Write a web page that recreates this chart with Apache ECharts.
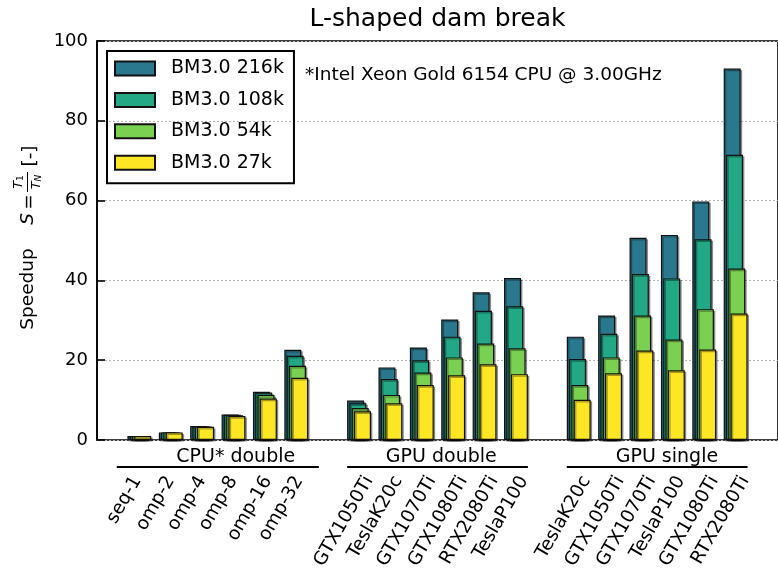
<!DOCTYPE html>
<html><head><meta charset="utf-8">
<script src="https://cdn.jsdelivr.net/npm/echarts@6/dist/echarts.min.js"></script>
<style>html,body{margin:0;padding:0;background:#fff}#c{width:778px;height:576px}</style>
</head><body><div id="c"></div>
<script>
// ---------- data ----------
const chartTitle = 'L-shaped dam break';
const noteText = '*Intel Xeon Gold 6154 CPU @ 3.00GHz';
const groupNames = ['CPU* double', 'GPU double', 'GPU single'];
const cpuCats = ['seq-1', 'omp-2', 'omp-4', 'omp-8', 'omp-16', 'omp-32'];
const gpuDoubleCats = ['GTX1050Ti', 'TeslaK20c', 'GTX1070Ti', 'GTX1080Ti', 'RTX2080Ti', 'TeslaP100'];
const gpuSingleCats = ['TeslaK20c', 'GTX1050Ti', 'GTX1070Ti', 'TeslaP100', 'GTX1080Ti', 'RTX2080Ti'];
const seriesNames = ['BM3.0 216k', 'BM3.0 108k', 'BM3.0 54k', 'BM3.0 27k'];
const bm216k = [1.0, 1.9, 3.5, 6.4, 12.1, 22.6, 9.9, 18.2, 23.2, 30.2, 37.0, 40.6, 25.9, 31.2, 50.7, 51.4, 59.8, 93.1];
const bm108k = [1.0, 1.9, 3.4, 6.3, 11.9, 21.1, 9.2, 15.3, 20.0, 25.9, 32.4, 33.5, 20.3, 26.6, 41.6, 40.5, 50.3, 71.5];
const bm54k  = [1.0, 1.9, 3.4, 6.2, 11.3, 18.6, 8.0, 11.3, 16.9, 20.7, 24.2, 23.0, 13.8, 20.7, 31.2, 25.2, 32.8, 43.0];
const bm27k  = [1.0, 1.9, 3.3, 6.0, 10.4, 15.6, 7.2, 9.2, 13.8, 16.2, 19.0, 16.5, 10.1, 16.7, 22.4, 17.5, 22.7, 31.7];
const yTicks = [0, 20, 40, 60, 80, 100];

// ---------- layout / style ----------
const FONT = '"DejaVu Sans", sans-serif';
const colors = ['#2a788e', '#22a884', '#7ad151', '#fde725'];
const groups = [cpuCats, gpuDoubleCats, gpuSingleCats];
const seriesValues = [bm216k, bm108k, bm54k, bm27k];
// category slot index: one empty slot between groups
const slots = [];   // {name, pos, group}
groups.forEach((cats, g) => {
  const start = g * (cats.length + 1);
  cats.forEach((c, i) => slots.push({ name: c, pos: start + i, group: g }));
});
const groupLinePad = [0.72, 0.38, 0.38];
const groupTextShift = [0.57, 0.12, 0.31];
const labelShift = 0.48;
const labelAngle = 60;
const labelFont = 18.5;
const labelTop = 473;

const series = seriesNames.map((n, si) => ({
  name: n,
  type: 'bar',
  barWidth: 17,
  barGap: '-86.5%',
  data: slots.map((s, i) => [s.pos, seriesValues[si][i]]),
  itemStyle: {
    color: colors[si], borderColor: '#111', borderWidth: 1.2,
    shadowColor: 'rgba(0,0,0,0.35)', shadowOffsetX: 1.5, shadowOffsetY: 1.5, shadowBlur: 0
  },
  emphasis: { disabled: true }
}));

const option = {
  animation: false,
  textStyle: { fontFamily: FONT },
  grid: { left: 97, top: 41, right: -9, bottom: 136, show: true, borderColor: '#000', borderWidth: 1.6, containLabel: false },
  legend: {
    orient: 'vertical', left: 107, top: 51,
    padding: [8, 10, 11, 7],
    borderColor: '#000', borderWidth: 2, borderRadius: 0,
    itemWidth: 40, itemHeight: 14, itemGap: 12.4,
    icon: 'rect',
    data: seriesNames,
    textStyle: { fontSize: 19, color: '#000', fontFamily: FONT, lineHeight: 16, padding: [0, 0, 0, 11] }
  },
  xAxis: {
    type: 'value', min: -1.35, max: slots[slots.length - 1].pos + 1.35,
    axisLine: { show: false }, axisTick: { show: false }, axisLabel: { show: false }, splitLine: { show: false }
  },
  yAxis: {
    type: 'value', min: yTicks[0], max: yTicks[yTicks.length - 1], interval: yTicks[1] - yTicks[0],
    axisLine: { show: true, onZero: false, lineStyle: { color: '#000', width: 1.6 } },
    axisTick: { show: true, inside: true, length: 8, lineStyle: { color: '#000', width: 1.6 } },
    axisLabel: { fontSize: 18, color: '#000', margin: 9, fontFamily: FONT },
    splitLine: { show: true, lineStyle: { color: '#b5b5b5', type: [2, 2], width: 1 } }
  },
  series: series
};

const chart = echarts.init(document.getElementById('c'), null, { renderer: 'canvas' });
chart.setOption(option);

// ---------- text elements placed through the axes ----------
const ctx = document.createElement('canvas').getContext('2d');
function tw(t, size) { ctx.font = size + 'px ' + FONT; return ctx.measureText(t).width; }
const px = (x, y) => chart.convertToPixel({ gridIndex: 0 }, [x, y]);
const th = labelAngle * Math.PI / 180;
const els = [];

// title
const topLeft = px(-1.35, 100), topRight = px(slots[slots.length - 1].pos + 1.35, 100);
els.push({ type: 'text', x: (topLeft[0] + topRight[0]) / 2, y: 19,
  style: { text: chartTitle, font: '25px ' + FONT, fill: '#000', align: 'center', verticalAlign: 'middle' } });
// note
els.push({ type: 'text', x: 305, y: 75,
  style: { text: noteText, font: '18.5px ' + FONT, fill: '#000', align: 'left', verticalAlign: 'middle' } });

// x tick labels
slots.forEach(s => {
  const p = px(s.pos - labelShift, 0);
  const w = tw(s.name, labelFont);
  const H = w * Math.sin(th) + labelFont * Math.cos(th);
  els.push({ type: 'text', x: p[0], y: labelTop + H / 2, rotation: th,
    style: { text: s.name, font: labelFont + 'px ' + FONT, fill: '#000', align: 'center', verticalAlign: 'middle' } });
});

// group labels + lines
groups.forEach((cats, g) => {
  const gs = slots.filter(s => s.group === g);
  const a = px(gs[0].pos - groupLinePad[g], 0), b = px(gs[gs.length - 1].pos + groupLinePad[g], 0);
  els.push({ type: 'line', shape: { x1: a[0], y1: 467, x2: b[0], y2: 467 }, style: { stroke: '#000', lineWidth: 2 } });
  const mid = px((gs[0].pos + gs[gs.length - 1].pos) / 2 + groupTextShift[g], 0);
  els.push({ type: 'text', x: mid[0], y: 457,
    style: { text: groupNames[g], font: '19px ' + FONT, fill: '#000', align: 'center', verticalAlign: 'middle' } });
});

// y axis title (rotated)
const rot = Math.PI / 2;
els.push({ type: 'text', x: 28, y: 289, rotation: rot,
  style: { text: 'Speedup', font: '18.5px ' + FONT, fill: '#000', align: 'center', verticalAlign: 'middle' } });
els.push({ type: 'text', x: 28, y: 219, rotation: rot,
  style: { text: 'S', font: 'italic 18.5px ' + FONT, fill: '#000', align: 'center', verticalAlign: 'middle' } });
els.push({ type: 'text', x: 29, y: 202, rotation: rot,
  style: { text: '=', font: '18.5px ' + FONT, fill: '#000', align: 'center', verticalAlign: 'middle' } });
els.push({ type: 'text', x: 19, y: 182, rotation: rot,
  style: { text: '{i|T}{s|1}', fill: '#000', align: 'center', verticalAlign: 'middle',
    rich: { i: { font: 'italic 13px ' + FONT, fill: '#000' }, s: { font: '9px ' + FONT, fill: '#000', verticalAlign: 'bottom' } } } });
els.push({ type: 'line', shape: { x1: 27.5, y1: 172, x2: 27.5, y2: 192 }, style: { stroke: '#000', lineWidth: 1 } });
els.push({ type: 'text', x: 37, y: 182, rotation: rot,
  style: { text: '{i|T}{s|N}', fill: '#000', align: 'center', verticalAlign: 'middle',
    rich: { i: { font: 'italic 13px ' + FONT, fill: '#000' }, s: { font: 'italic 9px ' + FONT, fill: '#000', verticalAlign: 'bottom' } } } });
els.push({ type: 'text', x: 30, y: 156, rotation: rot,
  style: { text: '[-]', font: '18.5px ' + FONT, fill: '#000', align: 'center', verticalAlign: 'middle' } });

chart.setOption({ graphic: { elements: els } });
</script>
</body></html>
